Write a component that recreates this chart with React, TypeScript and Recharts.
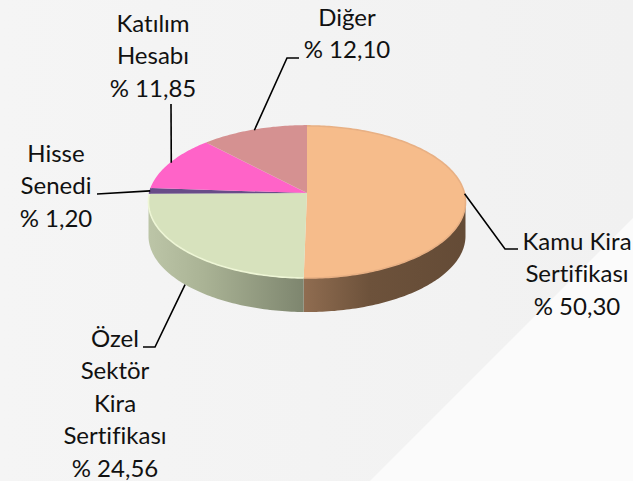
import React from 'react';
import { PieChart, Pie } from 'recharts';

const categories = ['Kamu Kira Sertifikası', 'Özel Sektör Kira Sertifikası', 'Hisse Senedi', 'Katılım Hesabı', 'Diğer'];
const shares = [50.3, 24.56, 1.2, 11.85, 12.1];
const shareLabels = ['% 50,30', '% 24,56', '% 1,20', '% 11,85', '% 12,10'];
const labelLines = [
  ['Kamu Kira', 'Sertifikası'],
  ['Özel', 'Sektör', 'Kira', 'Sertifikası'],
  ['Hisse', 'Senedi'],
  ['Katılım', 'Hesabı'],
  ['Diğer'],
];
const topColors = ['#f6bc8b', '#d7e2bd', '#684c88', '#ff63c8', '#d59191'];
const edgeColors = ['#e8b084', '#eef6d6', '#684c88', '#ff63c8', '#d59191'];

const data = categories.map((name, i) => ({ name, value: shares[i] }));

// label placement: text centre, first baseline, leader bend points
const labelPos = [
  { x: 577, y: 250, lead: [[505, 249], [518, 249]], drop: 0 },
  { x: 115, y: 347, lead: [[155, 347], [143, 347]], drop: 34 },
  { x: 56, y: 162, lead: [[97, 194]], drop: 0 },
  { x: 153, y: 32, lead: [[171, 104]], drop: 0 },
  { x: 347, y: 26, lead: [[287, 58], [299, 58]], drop: 0 },
];

const CX = 307;
const CY = 193;
const DEPTH = 34;
const RX = 157.4;
const RY = 75;
const PERSP = 0.118;
const LINE_HEIGHT = 32.4;

// circle point -> tilted disc with a bit of perspective
const project = (angle: number) => {
  const a = (angle * Math.PI) / 180;
  const u = Math.cos(a);
  const v = -Math.sin(a);
  const w = 1 - PERSP * v;
  return { x: CX + (RX * u) / w, y: CY + (RY * v) / w, v };
};

const arcPoints = (start: number, end: number) => {
  const n = Math.max(2, Math.ceil(Math.abs(end - start)));
  const pts = [];
  for (let i = 0; i <= n; i++) pts.push(project(start + ((end - start) * i) / n));
  return pts;
};

const toPath = (pts: { x: number; y: number }[]) =>
  pts.map((p, i) => `${i ? 'L' : 'M'}${p.x.toFixed(2)},${p.y.toFixed(2)}`).join(' ');

const wallStops = [
  [['0%', '#8f6c50'], ['40%', '#6d523b'], ['100%', '#644b36']],
  [['0%', '#bcc5a7'], ['35%', '#aab395'], ['100%', '#7d856e']],
];

const WallShape = (props: any) => {
  const { startAngle, endAngle, index } = props;
  if (index > 1) return null;
  const front = arcPoints(startAngle, endAngle).filter((p) => p.v >= PERSP);
  if (front.length < 2) return null;
  const lower = front.map((p) => ({ x: p.x, y: p.y + DEPTH })).reverse();
  const id = `wall-${index}`;
  return (
    <g>
      <defs>
        <linearGradient
          id={id}
          gradientUnits="userSpaceOnUse"
          x1={index === 0 ? 305 : 149}
          x2={index === 0 ? 466 : 305}
          y1={0}
          y2={0}
        >
          {wallStops[index].map(([o, c]) => (
            <stop key={o} offset={o} stopColor={c} />
          ))}
        </linearGradient>
      </defs>
      <path d={toPath([...front, ...lower]) + ' Z'} fill={`url(#${id})`} style={{ filter: 'blur(0.6px)' }} />
    </g>
  );
};

const TopShape = (props: any) => {
  const { startAngle, endAngle, index } = props;
  const arc = arcPoints(startAngle, endAngle);
  return (
    <g>
      <path d={toPath([{ x: CX, y: CY }, ...arc]) + ' Z'} fill={topColors[index]} />
      <path d={toPath(arc)} fill="none" stroke={edgeColors[index]} strokeWidth={1.6} style={{ filter: 'blur(0.5px)' }} />
    </g>
  );
};

const renderLabel = (props: any) => {
  const { index, midAngle } = props;
  const pos = labelPos[index];
  const start = project(midAngle);
  const pts = [{ x: start.x, y: start.y + pos.drop }, ...pos.lead.map(([x, y]) => ({ x, y }))];
  const lines = [...labelLines[index], shareLabels[index]];
  return (
    <g key={index}>
      <path d={toPath(pts)} fill="none" stroke="#000" strokeWidth={1.6} />
      <text
        x={pos.x}
        y={pos.y}
        textAnchor="middle"
        fontFamily="Lato"
        fontSize={24}
        fill="#111"
        style={{ fontVariantLigatures: 'none' }}
      >
        {lines.map((l, i) => (
          <tspan key={i} x={pos.x} y={pos.y + i * LINE_HEIGHT}>
            {l}
          </tspan>
        ))}
      </text>
    </g>
  );
};

export default function App() {
  return (
    <div
      style={{
        position: 'fixed',
        left: 0,
        top: 0,
        width: 633,
        height: 481,
        background: 'linear-gradient(90deg, #f5f5f5, #f1f1f1)',
        overflow: 'hidden',
      }}
    >
      <div
        style={{
          position: 'absolute',
          inset: 0,
          background: '#fbfbfb',
          clipPath: 'polygon(633px 218px, 633px 481px, 370px 481px)',
        }}
      />
      <div style={{ position: 'absolute', left: 0, top: 0 }}>
        <PieChart width={633} height={481} margin={{ top: 0, right: 0, bottom: 0, left: 0 }}>
          <Pie
            data={data}
            dataKey="value"
            cx={CX}
            cy={CY}
            outerRadius={150}
            startAngle={90}
            endAngle={-270}
            shape={WallShape}
            label={false}
            labelLine={false}
            stroke="none"
            isAnimationActive={false}
          />
          <Pie
            data={data}
            dataKey="value"
            cx={CX}
            cy={CY}
            outerRadius={150}
            startAngle={90}
            endAngle={-270}
            shape={TopShape}
            label={renderLabel}
            labelLine={false}
            stroke="none"
            isAnimationActive={false}
          />
        </PieChart>
      </div>
    </div>
  );
}
